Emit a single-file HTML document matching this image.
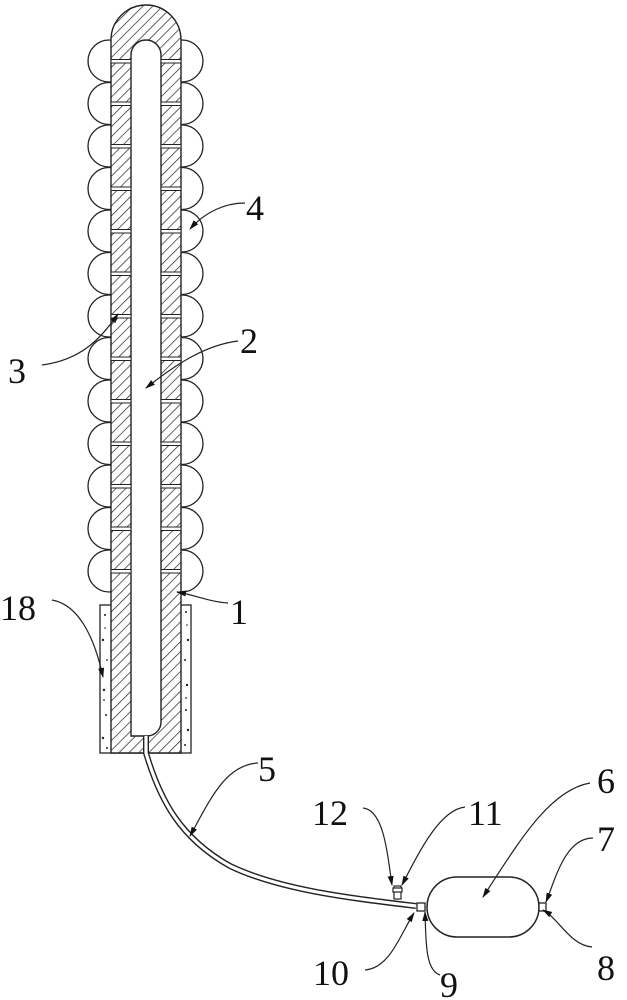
<!DOCTYPE html>
<html><head><meta charset="utf-8"><style>
html,body{margin:0;padding:0;background:#fff;}
svg{display:block;}
text{font-family:"Liberation Serif",serif;font-size:36px;fill:#111;}
</style></head><body>
<svg width="627" height="1000" viewBox="0 0 627 1000" xmlns="http://www.w3.org/2000/svg">
<defs>
<pattern id="h" patternUnits="userSpaceOnUse" width="7" height="7" patternTransform="rotate(45)">
<rect width="7" height="7" fill="#fff"/><line x1="0" y1="0" x2="0" y2="7" stroke="#222" stroke-width="1.4"/>
</pattern>
<marker id="a" markerWidth="10" markerHeight="8" refX="9" refY="4" orient="auto" markerUnits="userSpaceOnUse">
<path d="M0,1 L10,4 L0,7 Z" fill="#111"/></marker>
</defs>
<!-- circles -->
<g fill="#fff" stroke="#222" stroke-width="1.3">
<circle cx="109" cy="61" r="21"/><circle cx="109" cy="103.5" r="21"/><circle cx="109" cy="146" r="21"/><circle cx="109" cy="188.5" r="21"/><circle cx="109" cy="231" r="21"/><circle cx="109" cy="273.5" r="21"/><circle cx="109" cy="316" r="21"/><circle cx="109" cy="358.5" r="21"/><circle cx="109" cy="401" r="21"/><circle cx="109" cy="443.5" r="21"/><circle cx="109" cy="486" r="21"/><circle cx="109" cy="528.5" r="21"/><circle cx="109" cy="571" r="21"/>
<circle cx="182" cy="61" r="21"/><circle cx="182" cy="103.5" r="21"/><circle cx="182" cy="146" r="21"/><circle cx="182" cy="188.5" r="21"/><circle cx="182" cy="231" r="21"/><circle cx="182" cy="273.5" r="21"/><circle cx="182" cy="316" r="21"/><circle cx="182" cy="358.5" r="21"/><circle cx="182" cy="401" r="21"/><circle cx="182" cy="443.5" r="21"/><circle cx="182" cy="486" r="21"/><circle cx="182" cy="528.5" r="21"/><circle cx="182" cy="571" r="21"/>
</g>
<!-- sleeve -->
<rect x="100" y="605" width="91" height="148" fill="#fff" stroke="#222" stroke-width="1.3"/>
<g fill="#222">
<circle cx="105" cy="615" r="1"/><circle cx="103" cy="640" r="1.2"/><circle cx="107" cy="660" r="0.9"/><circle cx="104" cy="690" r="1.2"/><circle cx="106" cy="715" r="1"/><circle cx="103" cy="738" r="1.2"/><circle cx="107" cy="748" r="1"/><circle cx="105" cy="628" r="0.8"/><circle cx="104" cy="700" r="0.9"/>
<circle cx="186" cy="612" r="1"/><circle cx="188" cy="640" r="1.2"/><circle cx="185" cy="660" r="1"/><circle cx="187" cy="685" r="1.2"/><circle cx="186" cy="710" r="1"/><circle cx="188" cy="730" r="1.2"/><circle cx="185" cy="745" r="1"/><circle cx="187" cy="625" r="0.8"/><circle cx="186" cy="698" r="0.9"/>
</g>
<!-- tube body -->
<path d="M111,753 L111,40 A35,35 0 0 1 181,40 L181,753 Z" fill="url(#h)" stroke="#222" stroke-width="1.4"/>
<path d="M131,736 L131,55 A15,15 0 0 1 161,55 L161,722 A14,14 0 0 1 147,736 Z" fill="#fff" stroke="#222" stroke-width="1.4"/>
<!-- bands -->
<g fill="#fff" stroke="#222" stroke-width="1">
<rect x="111" y="59.5" width="20" height="3.5"/><rect x="161" y="59.5" width="20" height="3.5"/>
<rect x="111" y="102" width="20" height="3.5"/><rect x="161" y="102" width="20" height="3.5"/>
<rect x="111" y="144.5" width="20" height="3.5"/><rect x="161" y="144.5" width="20" height="3.5"/>
<rect x="111" y="187" width="20" height="3.5"/><rect x="161" y="187" width="20" height="3.5"/>
<rect x="111" y="229.5" width="20" height="3.5"/><rect x="161" y="229.5" width="20" height="3.5"/>
<rect x="111" y="272" width="20" height="3.5"/><rect x="161" y="272" width="20" height="3.5"/>
<rect x="111" y="314.5" width="20" height="3.5"/><rect x="161" y="314.5" width="20" height="3.5"/>
<rect x="111" y="357" width="20" height="3.5"/><rect x="161" y="357" width="20" height="3.5"/>
<rect x="111" y="399.5" width="20" height="3.5"/><rect x="161" y="399.5" width="20" height="3.5"/>
<rect x="111" y="442" width="20" height="3.5"/><rect x="161" y="442" width="20" height="3.5"/>
<rect x="111" y="484.5" width="20" height="3.5"/><rect x="161" y="484.5" width="20" height="3.5"/>
<rect x="111" y="527" width="20" height="3.5"/><rect x="161" y="527" width="20" height="3.5"/>
<rect x="111" y="569.5" width="20" height="3.5"/><rect x="161" y="569.5" width="20" height="3.5"/>
</g>
<!-- tube 5 -->
<path d="M146,736 L146,753 C160,800 180,838 230,866 C280,890 350,898 416,906" fill="none" stroke="#222" stroke-width="6"/>
<path d="M146,736 L146,753 C160,800 180,838 230,866 C280,890 350,898 416,906" fill="none" stroke="#fff" stroke-width="3.2"/>
<!-- tee -->
<rect x="394" y="886" width="7" height="13" fill="#fff" stroke="#222" stroke-width="1.2"/>
<rect x="393" y="888" width="9" height="4" fill="#fff" stroke="#222" stroke-width="1.2"/>
<!-- bulb -->
<rect x="427" y="877" width="112" height="60" rx="30" ry="30" fill="#fff" stroke="#222" stroke-width="1.5"/>
<rect x="417" y="903" width="8" height="8" fill="#fff" stroke="#222" stroke-width="1.3"/>
<rect x="539" y="903" width="7" height="8" fill="#fff" stroke="#222" stroke-width="1.3"/>
<!-- leaders -->
<g fill="none" stroke="#222" stroke-width="1.2" marker-end="url(#a)">
<path d="M245,203 C225,203 205,212 190,229"/>
<path d="M42,365 C80,360 100,340 118,314"/>
<path d="M238,341 C205,345 175,365 146,388"/>
<path d="M228,603 C210,602 195,595 177,592"/>
<path d="M52,600 C80,605 95,640 103,677"/>
<path d="M258,763 C225,765 210,800 190,836"/>
<path d="M363,808 C385,810 388,860 392,885"/>
<path d="M465,807 C440,810 420,850 402,885"/>
<path d="M590,783 C550,790 520,840 483,897"/>
<path d="M593,838 C565,838 555,880 546,902"/>
<path d="M592,947 C570,945 560,920 543,910"/>
<path d="M365,970 C390,968 400,935 414,913"/>
<path d="M440,975 C425,970 426,940 425,912"/>
</g>
<text x="246" y="220">4</text>
<text x="8" y="383">3</text>
<text x="240" y="353">2</text>
<text x="230" y="624">1</text>
<text x="0" y="620">18</text>
<text x="258" y="781">5</text>
<text x="312" y="825">12</text>
<text x="468" y="825">11</text>
<text x="597" y="793">6</text>
<text x="597" y="851">7</text>
<text x="597" y="980">8</text>
<text x="313" y="985">10</text>
<text x="440" y="997">9</text>
</svg>
</body></html>
